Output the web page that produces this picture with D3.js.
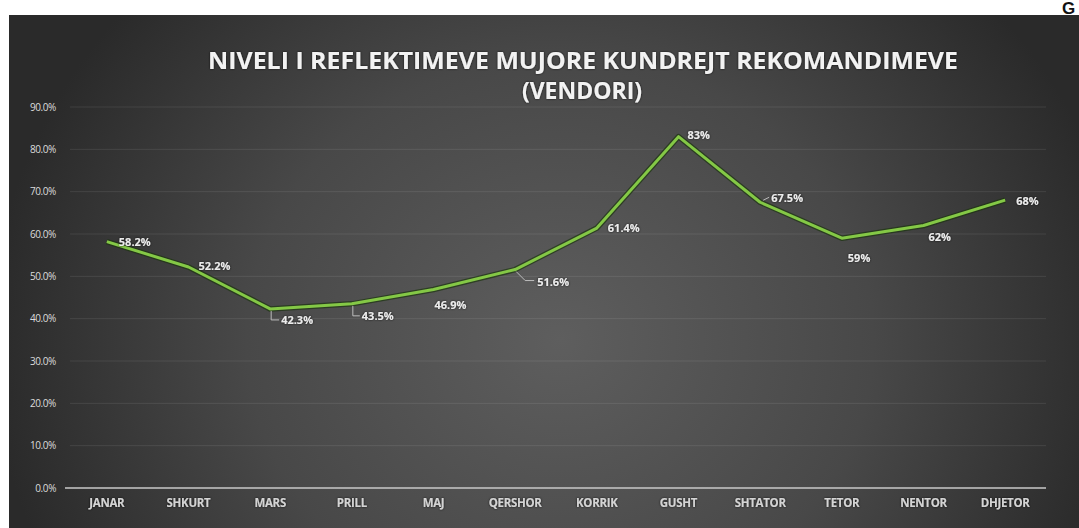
<!DOCTYPE html>
<html><head><meta charset="utf-8">
<script src="https://cdn.jsdelivr.net/npm/d3@7"></script>
<style>html,body{margin:0;padding:0;background:#fff;}svg{display:block;}</style>
</head><body>
<svg id="chart" width="1079" height="528"></svg>
<script>
const titleLines = ["NIVELI I REFLEKTIMEVE MUJORE KUNDREJT REKOMANDIMEVE", "(VENDORI)"];
const months = ["JANAR","SHKURT","MARS","PRILL","MAJ","QERSHOR","KORRIK","GUSHT","SHTATOR","TETOR","NENTOR","DHJETOR"];
const values = [58.2, 52.2, 42.3, 43.5, 46.9, 51.6, 61.4, 83, 67.5, 59, 62, 68];
const yTicks = [0,10,20,30,40,50,60,70,80,90];
const cornerMark = "G";

// label placement (layout only): dx, dy relative to point, leader type
const labelLayout = [
  {dx:12, dy:4, lead:null},
  {dx:10, dy:3, lead:null},
  {dx:11, dy:15, lead:"L"},
  {dx:10, dy:16, lead:"L"},
  {dx:1, dy:20, lead:null},
  {dx:22, dy:16, lead:"D"},
  {dx:11, dy:4, lead:null},
  {dx:9, dy:2, lead:null},
  {dx:11, dy:0, lead:"S"},
  {dx:6, dy:24, lead:null},
  {dx:5, dy:15, lead:null},
  {dx:11, dy:5, lead:null}
];

const svg = d3.select("#chart");
const W = 1079, H = 528;

const defs = svg.append("defs");
const rg = defs.append("radialGradient").attr("id","bg")
  .attr("gradientUnits","userSpaceOnUse")
  .attr("cx",560).attr("cy",340).attr("r",570)
  .attr("gradientTransform","translate(560,340) scale(1,0.9) translate(-560,-340)");
rg.append("stop").attr("offset","0").attr("stop-color","#5e5e5e");
rg.append("stop").attr("offset","0.55").attr("stop-color","#484848");
rg.append("stop").attr("offset","1").attr("stop-color","#2a2a2a");

const f = defs.append("filter").attr("id","glow").attr("x","-10%").attr("y","-30%").attr("width","120%").attr("height","160%");
f.append("feGaussianBlur").attr("in","SourceAlpha").attr("stdDeviation",1.2).attr("result","b");
f.append("feFlood").attr("flood-color","#000").attr("flood-opacity",0.8);
f.append("feComposite").attr("in2","b").attr("operator","in").attr("result","s");
const fm = f.append("feMerge"); fm.append("feMergeNode").attr("in","s"); fm.append("feMergeNode").attr("in","SourceGraphic");

svg.append("rect").attr("x",9).attr("y",15).attr("width",W-9).attr("height",H-15).attr("fill","url(#bg)");

svg.append("text").attr("x",1062).attr("y",14).attr("font-family","Liberation Sans, Arial, sans-serif")
  .attr("font-weight","bold").attr("font-size",17).attr("fill","#111").text(cornerMark);

const x = d3.scaleBand().domain(months).range([66,1046]);
const y = d3.scaleLinear().domain([0,90]).range([488,107]);

// gridlines
svg.append("g").selectAll("line").data(yTicks.filter(d=>d>0)).join("line")
  .attr("x1",70).attr("x2",1046).attr("y1",d=>y(d)).attr("y2",d=>y(d))
  .attr("stroke","#ffffff").attr("stroke-opacity",0.09).attr("stroke-width",1);

// y axis
const yAxis = svg.append("g").attr("transform","translate(58,0)")
  .call(d3.axisLeft(y).tickValues(yTicks).tickSize(0).tickFormat(d=>d.toFixed(1)+"%"));
yAxis.select(".domain").remove();
yAxis.selectAll("text").attr("fill","#dcdcdc").attr("font-family","Open Sans, sans-serif")
  .attr("font-size",10).attr("x",-2).attr("letter-spacing",-0.4);

// x axis
const xAxis = svg.append("g").attr("transform","translate(0,488)")
  .call(d3.axisBottom(x).tickSize(0).tickPadding(11));
xAxis.select(".domain").attr("stroke","#c8c8c8").attr("stroke-width",1.5).attr("d","M65,0H1046");
xAxis.selectAll("text").attr("fill","#d4d4d4").attr("font-family","Open Sans, sans-serif")
  .attr("font-weight","bold").attr("font-size",11.5).attr("letter-spacing",-0.3).attr("filter","url(#glow)");

// title
const tg = svg.append("g").attr("filter","url(#glow)");
tg.append("text").attr("x",583).attr("y",69).attr("text-anchor","middle")
  .attr("font-family","Open Sans, sans-serif").attr("font-weight","bold").attr("font-size",23)
  .attr("fill","#f2f2f2").attr("textLength",750).attr("lengthAdjust","spacingAndGlyphs").text(titleLines[0]);
tg.append("text").attr("x",582).attr("y",99).attr("text-anchor","middle")
  .attr("font-family","Open Sans, sans-serif").attr("font-weight","bold").attr("font-size",23)
  .attr("fill","#f2f2f2").text(titleLines[1]);

// line
const pts = months.map((m,i)=>({m, v:values[i], x:x(m)+x.bandwidth()/2, y:y(values[i]), L:labelLayout[i]}));
const line = d3.line().x(d=>d.x).y(d=>d.y);
svg.append("path").datum(pts).attr("d",line).attr("fill","none")
  .attr("stroke","#1d3510").attr("stroke-opacity",0.7).attr("stroke-width",5.5).attr("stroke-linejoin","round");
svg.append("path").datum(pts).attr("d",line).attr("fill","none")
  .attr("stroke","#84c846").attr("stroke-width",3).attr("stroke-linejoin","round");

// leaders
const lg = svg.append("g").attr("stroke","#bdbdbd").attr("stroke-width",1).attr("fill","none");
pts.forEach(p=>{
  const lx = p.x + p.L.dx, ly = p.y + p.L.dy;
  if (p.L.lead==="L") lg.append("path").attr("d",`M${p.x+1},${p.y+2}V${ly-4}H${lx-2}`);
  if (p.L.lead==="D") lg.append("path").attr("d",`M${p.x+1},${p.y+2}L${p.x+10},${ly-5}H${lx-3}`);
  if (p.L.lead==="S") lg.append("path").attr("d",`M${p.x+3},${p.y-2}L${lx-2},${ly-5}`);
});

// labels
const fmt = v => (v % 1 === 0 ? v : v.toFixed(1)) + "%";
svg.append("g").attr("filter","url(#glow)").selectAll("text").data(pts).join("text")
  .attr("x",d=>d.x+d.L.dx).attr("y",d=>d.y+d.L.dy)
  .attr("font-family","Open Sans, sans-serif").attr("font-weight","bold").attr("font-size",11)
  .attr("fill","#ececec").text(d=>fmt(d.v));
</script>
</body></html>
